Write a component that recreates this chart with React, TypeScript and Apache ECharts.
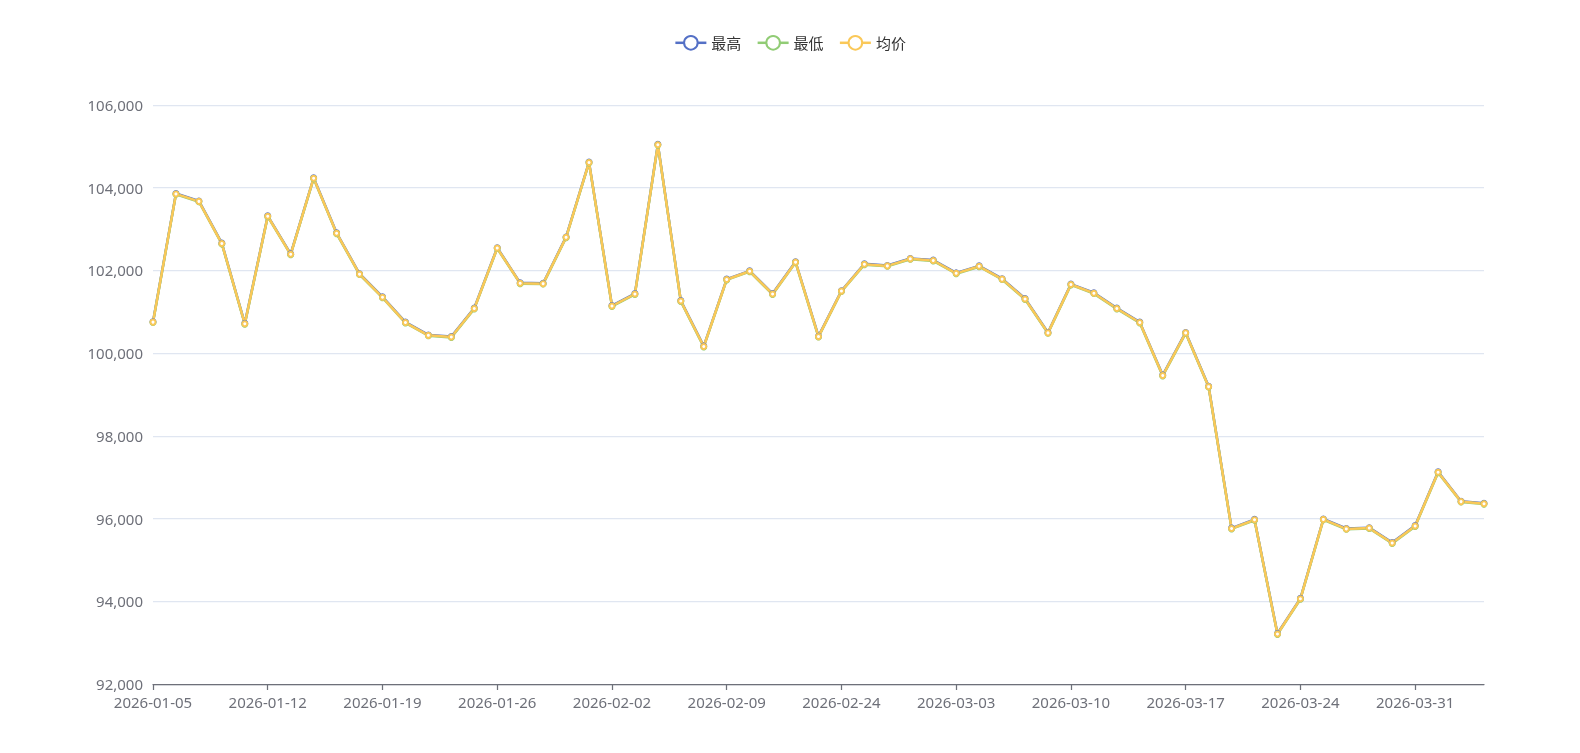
import React, { useEffect, useRef } from "react";
import * as echarts from "echarts";

const dates = [
  "2026-01-05", "2026-01-06", "2026-01-07", "2026-01-08", "2026-01-09",
  "2026-01-12", "2026-01-13", "2026-01-14", "2026-01-15", "2026-01-16",
  "2026-01-19", "2026-01-20", "2026-01-21", "2026-01-22", "2026-01-23",
  "2026-01-26", "2026-01-27", "2026-01-28", "2026-01-29", "2026-01-30",
  "2026-02-02", "2026-02-03", "2026-02-04", "2026-02-05", "2026-02-06",
  "2026-02-09", "2026-02-10", "2026-02-11", "2026-02-12", "2026-02-13",
  "2026-02-24", "2026-02-25", "2026-02-26", "2026-02-27", "2026-03-02",
  "2026-03-03", "2026-03-04", "2026-03-05", "2026-03-06", "2026-03-09",
  "2026-03-10", "2026-03-11", "2026-03-12", "2026-03-13", "2026-03-16",
  "2026-03-17", "2026-03-18", "2026-03-19", "2026-03-20", "2026-03-23",
  "2026-03-24", "2026-03-25", "2026-03-26", "2026-03-27", "2026-03-30",
  "2026-03-31", "2026-04-01", "2026-04-02", "2026-04-03",
];

const highPrices = [
  100760, 103860, 103680, 102660, 100720, 103320, 102400, 104240, 102910, 101920,
  101360, 100750, 100440, 100400, 101090, 102550, 101700, 101690, 102810, 104620,
  101150, 101440, 105050, 101270, 100170, 101790, 101990, 101440, 102210, 100410,
  101510, 102160, 102120, 102290, 102250, 101940, 102110, 101800, 101320, 100500,
  101670, 101460, 101090, 100750, 99470, 100500, 99200, 95770, 95980, 93220,
  94070, 95990, 95760, 95780, 95420, 95830, 97130, 96420, 96370,
];

const lowPrices = [
  100740, 103840, 103660, 102640, 100700, 103300, 102380, 104220, 102890, 101900,
  101340, 100730, 100420, 100380, 101070, 102530, 101680, 101670, 102790, 104600,
  101130, 101420, 105030, 101250, 100150, 101770, 101970, 101420, 102190, 100390,
  101490, 102140, 102100, 102270, 102230, 101920, 102090, 101780, 101300, 100480,
  101650, 101440, 101070, 100730, 99450, 100480, 99180, 95750, 95960, 93200,
  94050, 95970, 95740, 95760, 95400, 95810, 97110, 96400, 96350,
];

const avgPrices = [
  100750, 103850, 103670, 102650, 100710, 103310, 102390, 104230, 102900, 101910,
  101350, 100740, 100430, 100390, 101080, 102540, 101690, 101680, 102800, 104610,
  101140, 101430, 105040, 101260, 100160, 101780, 101980, 101430, 102200, 100400,
  101500, 102150, 102110, 102280, 102240, 101930, 102100, 101790, 101310, 100490,
  101660, 101450, 101080, 100740, 99460, 100490, 99190, 95760, 95970, 93210,
  94060, 95980, 95750, 95770, 95410, 95820, 97120, 96410, 96360,
];

const seriesNames = ["最高", "最低", "均价"];
const colors = ["#5470c6", "#91cc75", "#fac858"];

const FONT = "'Noto Sans', 'Noto Sans CJK SC', sans-serif";

export default function App() {
  const ref = useRef<HTMLDivElement>(null);

  useEffect(() => {
    if (!ref.current) return;
    const chart = echarts.init(ref.current, undefined, { renderer: "svg" });
    const dataSets = [highPrices, lowPrices, avgPrices];
    chart.setOption({
      animation: false,
      color: colors,
      textStyle: { fontFamily: FONT },
      legend: {
        data: seriesNames,
        left: "center",
        top: 30,
        itemWidth: 31,
        itemHeight: 17,
        itemGap: 15,
        lineStyle: { width: 2.5 },
        textStyle: { fontSize: 15, color: "#333", fontFamily: FONT },
      },
      grid: { left: 153, right: 96, top: 105, bottom: 69, containLabel: false },
      xAxis: {
        type: "category",
        data: dates,
        boundaryGap: false,
        axisLine: { lineStyle: { color: "#6E7079", width: 1.25 } },
        axisTick: { interval: 4, length: 6, lineStyle: { width: 1.25 } },
        axisLabel: {
          interval: 4,
          fontSize: 15,
          color: "#6E7079",
          margin: 10,
          fontFamily: FONT,
        },
      },
      yAxis: {
        type: "value",
        min: 92000,
        max: 106000,
        interval: 2000,
        axisLabel: {
          fontSize: 15,
          color: "#6E7079",
          margin: 10,
          fontFamily: FONT,
          formatter: (v: number) => v.toLocaleString("en-US"),
        },
        splitLine: { lineStyle: { color: "#E0E6F1", width: 1.25 } },
      },
      series: seriesNames.map((name, i) => ({
        name,
        type: "line",
        data: dataSets[i],
        symbol: "emptyCircle",
        symbolSize: 5,
        lineStyle: { width: 2.5 },
        itemStyle: { borderWidth: 2.5 },
      })),
    });
    return () => chart.dispose();
  }, []);

  return (
    <div
      ref={ref}
      style={{ position: "fixed", left: 0, top: 0, width: 1580, height: 753 }}
    />
  );
}
